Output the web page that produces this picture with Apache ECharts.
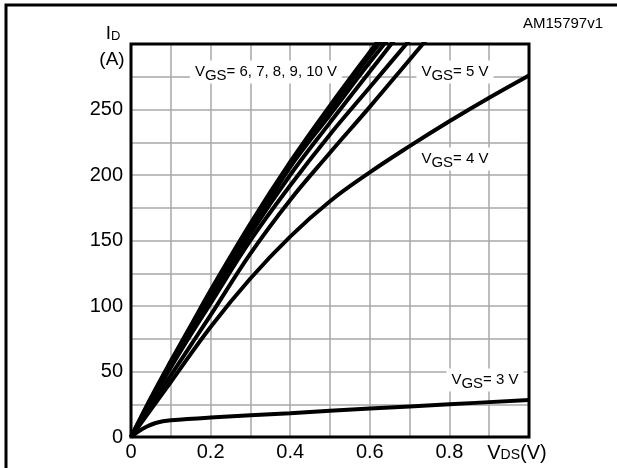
<!DOCTYPE html>
<html>
<head>
<meta charset="utf-8">
<script src="https://cdn.jsdelivr.net/npm/echarts@6/dist/echarts.min.js"></script>
<style>
  html, body { margin: 0; padding: 0; background: #fff; }
  #main { width: 617px; height: 468px; }
</style>
</head>
<body>
<div id="main"></div>
<script>
// output characteristics, ID (A) vs VDS (V)
var vgs3  = [[0,0],[0.02,4.5],[0.04,8],[0.06,10.5],[0.08,12],[0.1,12.8],[0.2,14.8],[0.4,18.2],[0.6,21.7],[0.8,25],[1.0,28.2]];
var vgs4  = [[0,0],[0.1,42],[0.2,84],[0.3,121],[0.4,153],[0.5,180],[0.6,202],[0.7,222],[0.8,241],[0.9,259],[1.0,276]];
var vgs5  = [[0,0],[0.05,24],[0.1,47],[0.15,70],[0.2,93],[0.3,140],[0.4,181],[0.5,217],[0.6,252],[0.7,288],[0.75,306]];
var vgs6  = [[0,0],[0.05,27],[0.1,53],[0.15,78],[0.2,102],[0.3,150],[0.4,192],[0.5,231],[0.6,267],[0.7,303]];
var vgs7  = [[0,0],[0.05,28],[0.1,55],[0.15,80],[0.2,105],[0.3,155],[0.4,200],[0.5,240],[0.6,279],[0.7,318]];
var vgs8  = [[0,0],[0.05,28],[0.1,56],[0.15,82],[0.2,108],[0.3,157],[0.4,206],[0.5,246],[0.6,286],[0.7,324]];
var vgs9  = [[0,0],[0.05,29],[0.1,57],[0.15,84],[0.2,110],[0.3,160],[0.4,208],[0.5,250],[0.6,291],[0.65,310]];
var vgs10 = [[0,0],[0.05,30],[0.1,58],[0.15,85],[0.2,112],[0.3,163],[0.4,210],[0.5,253],[0.6,294],[0.65,314]];

var curves = [vgs3, vgs4, vgs5, vgs6, vgs7, vgs8, vgs9, vgs10];
var curveNames = ['3 V', '4 V', '5 V', '6 V', '7 V', '8 V', '9 V', '10 V'];

var myChart = echarts.init(document.getElementById('main'));

var font = 'Liberation Sans, Arial, sans-serif';
var gridColor = '#a8a8a8';

// little helper for the "VGS= ..." labels
function vgsLabel(txt, x, y) {
    return {
        type: 'text', x: x, y: y, z: 10,
        style: {
            text: '{v|V}{s|GS}{t|' + txt + '}',
            align: 'center', verticalAlign: 'middle',
            backgroundColor: '#fff',
            padding: [0, 5, 0, 5],
            rich: {
                v: { fontSize: 15, fontFamily: font, fill: '#000' },
                s: { fontSize: 15, fontFamily: font, fill: '#000', padding: [8, 0, 0, 0] },
                t: { fontSize: 15, fontFamily: font, fill: '#000' }
            }
        }
    };
}

var series = [];
for (var i = 0; i < curves.length; i++) {
    series.push({
        name: curveNames[i],
        type: 'line',
        data: curves[i],
        smooth: 0.4,
        symbol: 'none',
        clip: true,
        lineStyle: { color: '#000', width: 4 }
    });
}

option = {
    animation: false,
    backgroundColor: '#fff',
    grid: {
        left: 131, top: 44, right: 88, bottom: 31,
        show: true, z: 3,
        borderColor: '#000', borderWidth: 3,
        backgroundColor: 'transparent'
    },
    xAxis: {
        type: 'value',
        min: 0, max: 1, interval: 0.2,
        axisLine: { show: false },
        axisTick: { show: false },
        axisLabel: {
            showMaxLabel: false,
            margin: 5,
            color: '#000', fontSize: 20, fontFamily: font
        },
        splitLine: { lineStyle: { color: gridColor, width: 1.5 } },
        minorTick: { show: false, splitNumber: 2 },
        minorSplitLine: { show: true, lineStyle: { color: gridColor, width: 1.5 } }
    },
    yAxis: {
        type: 'value',
        min: 0, max: 300, interval: 50,
        axisLine: { show: false },
        axisTick: { show: false },
        axisLabel: {
            showMaxLabel: false,
            margin: 8,
            color: '#000', fontSize: 20, fontFamily: font
        },
        splitLine: { lineStyle: { color: gridColor, width: 1.5 } },
        minorTick: { show: false, splitNumber: 2 },
        minorSplitLine: { show: true, lineStyle: { color: gridColor, width: 1.5 } }
    },
    graphic: [
        // outer frame (top and left only)
        {
            type: 'polyline', z: 10,
            shape: { points: [[6, 468], [6, 5], [617, 5]] },
            style: { stroke: '#000', lineWidth: 3, fill: null }
        },
        {
            type: 'text', x: 603, y: 24, z: 10,
            style: { text: 'AM15797v1', align: 'right', verticalAlign: 'middle',
                     font: '15px ' + font, fill: '#000' }
        },
        {
            type: 'text', x: 113, y: 34, z: 10,
            style: {
                text: '{a|I}{b|D}', align: 'center', verticalAlign: 'middle',
                rich: {
                    a: { fontSize: 19, fontFamily: font, fill: '#000' },
                    b: { fontSize: 13, fontFamily: font, fill: '#000', padding: [4, 0, 0, 0] }
                }
            }
        },
        {
            type: 'text', x: 112, y: 60, z: 10,
            style: { text: '(A)', align: 'center', verticalAlign: 'middle',
                     font: '19px ' + font, fill: '#000' }
        },
        {
            type: 'text', x: 517, y: 453, z: 10,
            style: {
                text: '{a|V}{b|DS}{a|(V)}', align: 'center', verticalAlign: 'middle',
                rich: {
                    a: { fontSize: 20, fontFamily: font, fill: '#000' },
                    b: { fontSize: 14, fontFamily: font, fill: '#000', padding: [4, 0, 0, 0] }
                }
            }
        },
        vgsLabel('= 6, 7, 8, 9, 10 V', 266, 72),
        vgsLabel('= 5 V', 455, 72),
        vgsLabel('= 4 V', 455, 159),
        vgsLabel('= 3 V', 485, 380)
    ],
    series: series
};

myChart.setOption(option);
</script>
</body>
</html>
